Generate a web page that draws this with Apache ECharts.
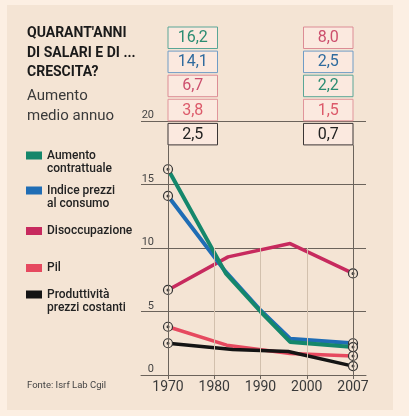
<!DOCTYPE html>
<html>
<head>
<meta charset="utf-8" />
<title>Quarant'anni di salari</title>
<style>
html,body{margin:0;padding:0;background:#fcefe3;}
#panel{position:absolute;left:7px;top:5px;width:386px;height:405px;background:#f4e4d4;}
#main{position:absolute;left:0;top:0;width:409px;height:416px;}
</style>
<script src="https://cdn.jsdelivr.net/npm/echarts@6/dist/echarts.min.js"></script>
</head>
<body>
<div id="panel"></div>
<div id="main"></div>
<script>
// x is in tick steps: 0 = 1970 ... 4 = 2007
var years = ['1970', '1980', '1990', '2000', '2007'];
var names = ['Aumento contrattuale', 'Indice prezzi al consumo', 'Disoccupazione', 'Pil', 'Produttività prezzi costanti'];
var legendLines = [['Aumento', 'contrattuale'], ['Indice prezzi', 'al consumo'], ['Disoccupazione'], ['Pil'], ['Produttività', 'prezzi costanti']];

var contrattuale = [[0, 16.2], [1.25, 8.0], [2.0, 5.0], [2.64, 2.6], [4, 2.2]];
var prezzi = [[0, 14.1], [1.23, 8.2], [2.0, 5.1], [2.64, 2.85], [4, 2.5]];
var disoccupazione = [[0, 6.7], [1.3, 9.3], [2.64, 10.35], [4, 8.0]];
var pil = [[0, 3.8], [1.27, 2.35], [2.64, 1.7], [4, 1.5]];
var produttivita = [[0, 2.5], [1.4, 2.0], [2.6, 1.85], [4, 0.7]];

var lineColors = ['#15876b', '#1f6db5', '#c72a5e', '#e6495f', '#141414'];
var boxBorders = ['#5aa697', '#6f9cc6', '#dc8c95', '#e0959b', '#3b3535'];
var boxTexts = ['#2b8c72', '#2f6b9e', '#cc4f6d', '#dc5a6a', '#222222'];

var allData = [contrattuale, prezzi, disoccupazione, pil, produttivita];
var drawOrder = [2, 3, 4, 1, 0];

var ring = 'path://M-10,0a10,10 0 1,0 20,0a10,10 0 1,0 -20,0Z M-2,0a2,2 0 1,0 4,0a2,2 0 1,0 -4,0Z';
var gridColor = '#6b635b';

function fmt(v) {
	return v.toFixed(1).replace('.', ',');
}

var myChart = echarts.init(document.getElementById('main'));

var series = drawOrder.map(function(i) {
	var data = allData[i];
	return {
		name: names[i],
		type: 'line',
		xAxisIndex: 1,
		yAxisIndex: 1,
		data: data,
		showAllSymbol: true,
		symbol: function(val, params) {
			return (params.dataIndex === 0 || params.dataIndex === data.length - 1) ? ring : 'none';
		},
		symbolSize: 9,
		itemStyle: { color: '#f3e3d3', borderColor: '#333', borderWidth: 1.2 },
		lineStyle: { color: lineColors[i], width: i < 2 ? 4 : 3.5 },
		silent: true
	};
});

// vertical guide lines
series.unshift({
	type: 'line',
	xAxisIndex: 1,
	yAxisIndex: 1,
	data: [],
	z: 1,
	markLine: {
		silent: true,
		symbol: 'none',
		label: { show: false },
		data: [
			[{ coord: [1, 0], lineStyle: { color: '#d2c0ad', width: 1, type: 'solid' } }, { coord: [1, 10] }],
			[{ coord: [2, 0], lineStyle: { color: '#d2c0ad', width: 1, type: 'solid' } }, { coord: [2, 10] }],
			[{ coord: [3, 0], lineStyle: { color: '#d2c0ad', width: 1, type: 'solid' } }, { coord: [3, 10] }],
			[{ coord: [0, 0], lineStyle: { color: gridColor, width: 1, type: 'solid' } }, { coord: [0, 18.1] }],
			[{ coord: [4, 0], lineStyle: { color: gridColor, width: 1, type: 'solid' } }, { coord: [4, 18.1] }]
		]
	}
});

var option = {
	animation: false,
	textStyle: { fontFamily: 'Roboto' },
	title: [{
		text: "QUARANT'ANNI\nDI SALARI E DI ...\nCRESCITA?",
		left: 27,
		top: 24,
		padding: 0,
		textStyle: { fontFamily: 'Roboto', fontSize: 14, fontWeight: 'bold', color: '#1a1a1a', lineHeight: 19.5 }
	}, {
		text: 'Aumento\nmedio annuo',
		left: 27,
		top: 86,
		padding: 0,
		textStyle: { fontFamily: 'Roboto', fontSize: 15, fontWeight: 'normal', color: '#3a3a3a', lineHeight: 20 }
	}, {
		text: 'Fonte: Isrf Lab Cgil',
		left: 27,
		top: 381,
		padding: 0,
		textStyle: { fontFamily: 'Roboto', fontSize: 9.5, fontWeight: 'normal', color: '#444' }
	}],
	grid: [
		{ left: 141, right: 43, top: 121, bottom: 41 },
		{ left: 168, right: 56, top: 121, bottom: 41 }
	],
	xAxis: [{
		gridIndex: 0,
		type: 'value',
		min: 0,
		max: 1,
		axisLine: { show: true, lineStyle: { color: gridColor, width: 1 } },
		axisTick: { show: false },
		axisLabel: { show: false },
		splitLine: { show: false }
	}, {
		gridIndex: 1,
		type: 'value',
		min: 0,
		max: 4,
		interval: 1,
		axisLine: { show: false },
		axisTick: { show: true, length: 4, lineStyle: { color: gridColor } },
		axisLabel: {
			formatter: function(v) { return years[v]; },
			color: '#3a3a3a',
			fontSize: 14,
			margin: 5
		},
		splitLine: { show: false }
	}],
	yAxis: [{
		gridIndex: 0,
		type: 'value',
		min: 0,
		max: 20,
		interval: 5,
		axisLine: { show: false },
		axisTick: { show: false },
		splitLine: { show: true, lineStyle: { color: gridColor, width: 1 } },
		axisLabel: {
			inside: true,
			align: 'right',
			margin: 13,
			verticalAlign: 'bottom',
			color: '#444',
			fontSize: 11
		}
	}, {
		gridIndex: 1,
		type: 'value',
		min: 0,
		max: 20,
		show: false
	}],
	series: series
};

myChart.setOption(option);

// legend and value boxes
var graphics = [];
var swatchTops = [151.5, 186.5, 227, 264, 290.5];
legendLines.forEach(function(lines, i) {
	graphics.push({
		type: 'rect',
		shape: { x: 26, y: swatchTops[i], width: 16, height: 8 },
		style: { fill: lineColors[i] }
	});
	graphics.push({
		type: 'text',
		x: 47,
		y: swatchTops[i] + 4 - 6.75,
		style: {
			text: lines.join('\n'),
			font: '500 12px Roboto',
			lineHeight: 13.5,
			fill: '#222',
			verticalAlign: 'top'
		}
	});
});

var x0 = myChart.convertToPixel({ gridIndex: 1 }, [0, 0])[0];
var x1 = myChart.convertToPixel({ gridIndex: 1 }, [4, 0])[0];
var boxW = 49.5, boxH = 21.5, boxTop = 27, boxStep = 24.1;

function addColumn(order, left, pick) {
	order.forEach(function(i, row) {
		var y = boxTop + row * boxStep;
		graphics.push({
			type: 'rect',
			shape: { x: left, y: y, width: boxW, height: boxH },
			style: { fill: '#fbe9df', stroke: boxBorders[i], lineWidth: 1 }
		});
		graphics.push({
			type: 'text',
			x: left + boxW / 2,
			y: y + boxH / 2 + 0.5,
			style: {
				text: fmt(pick(i)),
				font: '16px Roboto',
				fill: boxTexts[i],
				align: 'center',
				verticalAlign: 'middle'
			}
		});
	});
}

function first(i) { return allData[i][0][1]; }
function last(i) { return allData[i][allData[i].length - 1][1]; }

var idx = [0, 1, 2, 3, 4];
var leftOrder = idx.slice().sort(function(a, b) { return first(b) - first(a); });
var rightOrder = idx.slice().sort(function(a, b) { return last(b) - last(a); });
addColumn(leftOrder, x0, first);
addColumn(rightOrder, x1 - boxW, last);

myChart.setOption({ graphic: graphics });
</script>
</body>
</html>
